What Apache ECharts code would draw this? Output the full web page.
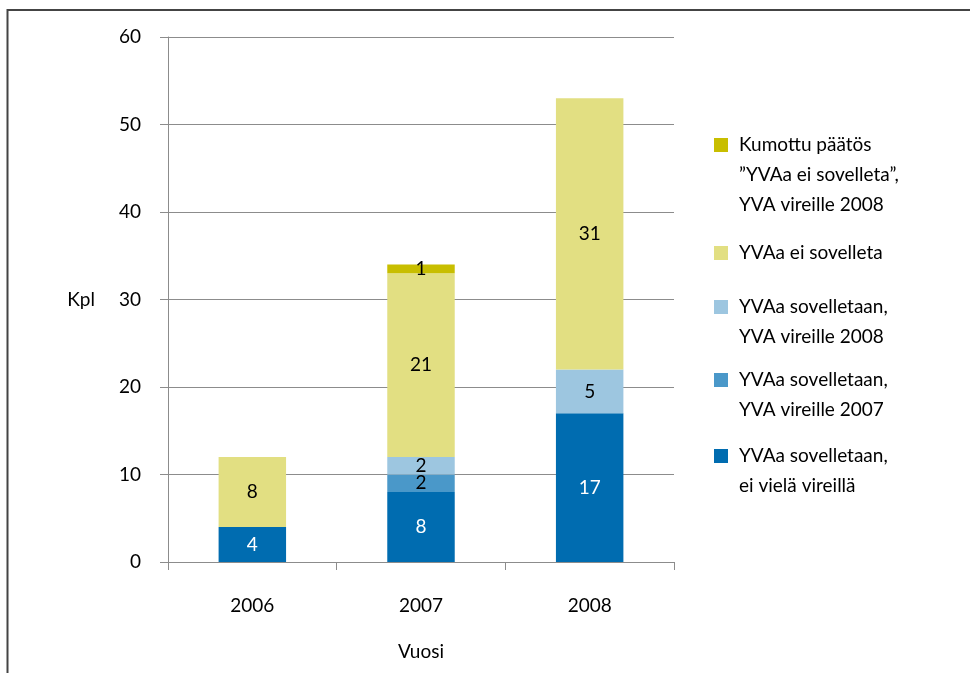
<!DOCTYPE html>
<html>
<head>
<meta charset="utf-8">
<script src="https://cdn.jsdelivr.net/npm/echarts@6/dist/echarts.min.js"></script>
<style>
html,body{margin:0;padding:0;background:#fff;}
#chart{width:970px;height:673px;}
</style>
</head>
<body>
<div id="chart"></div>
<script>
var categories = ['2006', '2007', '2008'];
var seriesNames = [
  'YVAa sovelletaan,\nei vielä vireillä',
  'YVAa sovelletaan,\nYVA vireille 2007',
  'YVAa sovelletaan,\nYVA vireille 2008',
  'YVAa ei sovelleta',
  'Kumottu päätös\n”YVAa ei sovelleta”,\nYVA vireille 2008'
];
var eiVielaVireilla = [4, 8, 17];
var vireille2007 = [null, 2, null];
var vireille2008 = [null, 2, 5];
var eiSovelleta = [8, 21, 31];
var kumottu = [null, 1, null];
var yTicks = [0, 10, 20, 30, 40, 50, 60];

var values = [eiVielaVireilla, vireille2007, vireille2008, eiSovelleta, kumottu];
var colors = ['#006CB0', '#4A98C9', '#9DC6E0', '#E2DF82', '#C8BE00'];
var labelColors = ['#ffffff', '#000000', '#000000', '#000000', '#000000'];
var legendTops = [456, 380, 307, 253, 145];

var font = 'Lato';
var fs = 19;

var series = values.map(function (v, i) {
  return {
    name: seriesNames[i],
    type: 'bar',
    stack: 'total',
    barWidth: '40%',
    data: v,
    itemStyle: { color: colors[i] },
    label: {
      show: true,
      position: 'inside',
      color: labelColors[i],
      fontFamily: font,
      fontSize: fs
    }
  };
});

var legends = seriesNames.map(function (n, i) {
  var lines = n.split('\n').length;
  var pad = '';
  for (var k = 0; k < lines - 1; k++) pad += '\n';
  return {
    data: [n],
    left: 714,
    top: legendTops[i] - 7 - (lines - 1) * 30 - 8,
    padding: 0,
    itemWidth: 14,
    itemHeight: 14,
    itemGap: 11,
    icon: 'rect',
    selectedMode: false,
    formatter: function (name) { return pad + name; },
    textStyle: { fontFamily: font, fontSize: fs, color: '#000', lineHeight: 30, padding: [0, 0, 0, 6] }
  };
});

var chart = echarts.init(document.getElementById('chart'));
chart.setOption({
  animation: false,
  backgroundColor: '#fff',
  grid: { left: 168, right: 296, top: 37, bottom: 111, containLabel: false },
  legend: legends,
  xAxis: {
    type: 'category',
    data: categories,
    name: 'Vuosi',
    nameLocation: 'middle',
    nameGap: 80,
    nameTextStyle: { fontFamily: font, fontSize: fs, color: '#000' },
    axisLine: { lineStyle: { color: '#8c8c8c', width: 1 } },
    axisTick: { show: true, length: 8, lineStyle: { color: '#8c8c8c' } },
    axisLabel: { margin: 34, fontFamily: font, fontSize: fs, color: '#000' }
  },
  yAxis: {
    type: 'value',
    min: 0,
    max: 60,
    interval: 10,
    name: 'Kpl',
    nameLocation: 'middle',
    nameRotate: 0,
    nameGap: 73,
    nameTextStyle: { fontFamily: font, fontSize: fs, color: '#000', align: 'right' },
    axisLine: { show: true, lineStyle: { color: '#8c8c8c', width: 1 } },
    axisTick: { show: true, length: 8, lineStyle: { color: '#8c8c8c' } },
    axisLabel: { margin: 27, fontFamily: font, fontSize: fs, color: '#000' },
    splitLine: { lineStyle: { color: '#8c8c8c', width: 1 } }
  },
  graphic: [{
    type: 'rect',
    shape: { x: 7.5, y: 10, width: 1200, height: 900 },
    style: { fill: 'none', stroke: '#444', lineWidth: 2 },
    silent: true
  }],
  series: series
});
</script>
</body>
</html>
